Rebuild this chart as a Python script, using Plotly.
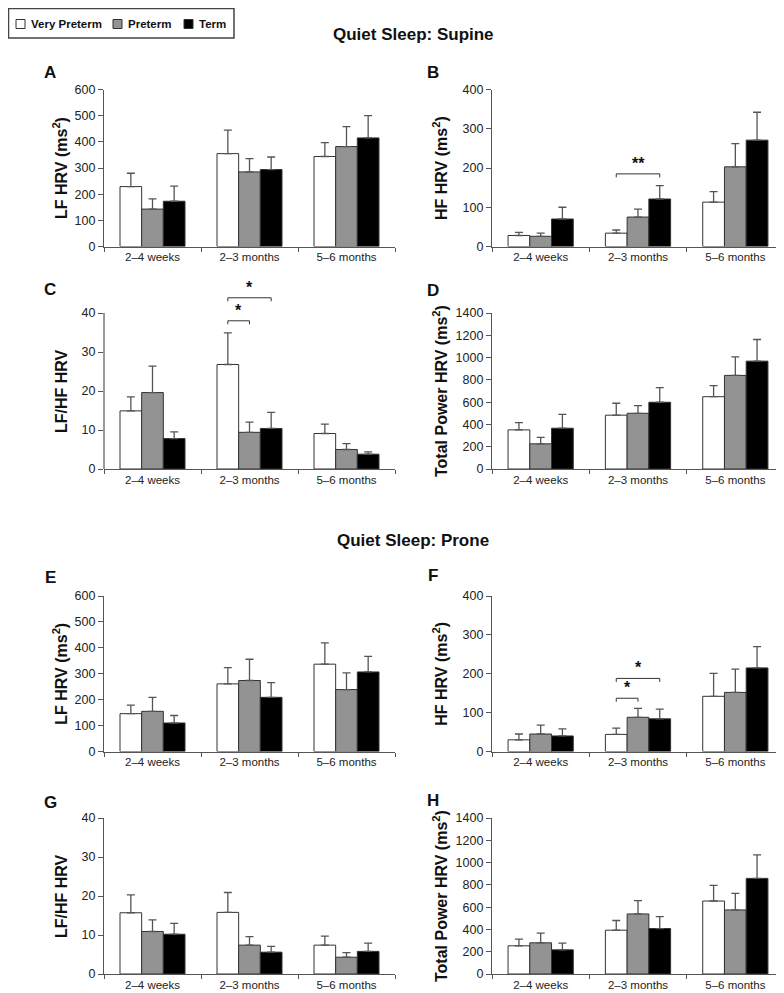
import plotly.graph_objects as go

# ---------------- data ----------------
categories = ["2–4 weeks", "2–3 months", "5–6 months"]
groups = ["Very Preterm", "Preterm", "Term"]

# Quiet Sleep: Supine
A_vp = [229, 355, 344]; A_vp_err = [51, 90, 53]
A_p = [143, 285, 382];  A_p_err = [39, 51, 76]
A_t = [173, 294, 415];  A_t_err = [58, 48, 85]

B_vp = [28, 34, 113];  B_vp_err = [8, 8, 27]
B_p = [26, 75, 203];   B_p_err = [8, 20, 59]
B_t = [70, 121, 271];  B_t_err = [30, 34, 71]

C_vp = [14.9, 26.8, 9.1]; C_vp_err = [3.6, 8.1, 2.4]
C_p = [19.6, 9.4, 5.0];   C_p_err = [6.8, 2.6, 1.5]
C_t = [7.8, 10.4, 3.8];   C_t_err = [1.7, 4.1, 0.6]

D_vp = [351, 483, 649]; D_vp_err = [66, 107, 99]
D_p = [226, 500, 840];  D_p_err = [57, 69, 167]
D_t = [366, 599, 968];  D_t_err = [125, 131, 194]

# Quiet Sleep: Prone
E_vp = [146, 261, 337]; E_vp_err = [33, 63, 82]
E_p = [155, 274, 239];  E_p_err = [54, 82, 64]
E_t = [110, 209, 307];  E_t_err = [29, 57, 60]

F_vp = [30, 44, 142]; F_vp_err = [15, 16, 59]
F_p = [45, 88, 152];  F_p_err = [23, 23, 60]
F_t = [40, 84, 215];  F_t_err = [18, 25, 55]

G_vp = [15.7, 15.8, 7.4]; G_vp_err = [4.6, 5.1, 2.3]
G_p = [10.9, 7.4, 4.3];   G_p_err = [3.0, 2.2, 1.2]
G_t = [10.2, 5.6, 5.8];   G_t_err = [2.8, 1.5, 2.1]

H_vp = [253, 393, 655]; H_vp_err = [60, 87, 140]
H_p = [280, 539, 575];  H_p_err = [86, 119, 149]
H_t = [217, 408, 858];  H_t_err = [60, 107, 211]

# significance brackets: (category index, from group, to group, level, label)
sig_B = [(1, 0, 2, 185, "**")]
sig_C = [(1, 0, 1, 38.0, "*"), (1, 0, 2, 43.9, "*")]
sig_F = [(1, 0, 1, 137, "*"), (1, 0, 2, 188, "*")]

section_titles = ["Quiet Sleep: Supine", "Quiet Sleep: Prone"]

# ---------------- styling ----------------
OFF = 8                      # browser body margin
W, H = 784 - OFF, 993 - OFF
FONT = "Liberation Sans, Arial, sans-serif"
COLORS = ["#ffffff", "#939393", "#000000"]
AXC = "#555555"
BARGAP = 0.33

LF_T = "LF HRV (ms<sup>2</sup>)"
HF_T = "HF HRV (ms<sup>2</sup>)"
RT_T = "LF/HF HRV"
TP_T = "Total Power HRV (ms<sup>2</sup>)"


def px_x(x):  # reference pixel -> paper
    return (x - OFF) / W


def px_y(y):
    return 1 - (y - OFF) / H


LEFT = [px_x(104), px_x(395)]
RIGHT = [px_x(492), px_x(784)]

panels = [
    # letter, means, errs, ymax, dtick, title, xdom, (top,bottom) px, sig, range max, title x px
    ("A", [A_vp, A_p, A_t], [A_vp_err, A_p_err, A_t_err], 600, 100, LF_T, LEFT, (89.5, 246.5), [], 600, 60),
    ("B", [B_vp, B_p, B_t], [B_vp_err, B_p_err, B_t_err], 400, 100, HF_T, RIGHT, (89.5, 246.5), sig_B, 400, 440),
    ("C", [C_vp, C_p, C_t], [C_vp_err, C_p_err, C_t_err], 40, 10, RT_T, LEFT, (313, 469), sig_C, 48, 61),
    ("D", [D_vp, D_p, D_t], [D_vp_err, D_p_err, D_t_err], 1400, 200, TP_T, RIGHT, (313, 469), [], 1400, 440),
    ("E", [E_vp, E_p, E_t], [E_vp_err, E_p_err, E_t_err], 600, 100, LF_T, LEFT, (596, 751.5), [], 600, 60),
    ("F", [F_vp, F_p, F_t], [F_vp_err, F_p_err, F_t_err], 400, 100, HF_T, RIGHT, (596, 751.5), sig_F, 400, 440),
    ("G", [G_vp, G_p, G_t], [G_vp_err, G_p_err, G_t_err], 40, 10, RT_T, LEFT, (818, 974), [], 40, 61),
    ("H", [H_vp, H_p, H_t], [H_vp_err, H_p_err, H_t_err], 1400, 200, TP_T, RIGHT, (818, 974), [], 1400, 440),
]

letter_pos = {"A": (50, 73), "B": (433, 73), "C": (50, 289), "D": (433, 291),
              "E": (50, 577), "F": (433, 575), "G": (50, 802), "H": (433, 800)}

fig = go.Figure()
layout = dict(
    width=W, height=H, margin=dict(l=0, r=0, t=0, b=0),
    paper_bgcolor="white", plot_bgcolor="white",
    barmode="group", bargap=BARGAP, bargroupgap=0,
    showlegend=False,
    font=dict(family=FONT, size=11, color="#222"),
)
shapes = []
annotations = []


def bar_center(ci, gi):
    w = (1 - BARGAP) / 3
    return ci + (gi - 1) * w


for k, (letter, means, errs, ymax, dt, title, xdom, (top, bottom), sig, rmax, tx) in enumerate(panels):
    n = k + 1
    xa = "x" if n == 1 else f"x{n}"
    ya = "y" if n == 1 else f"y{n}"
    for gi in range(3):
        fig.add_trace(go.Bar(
            x=categories, y=means[gi], name=groups[gi], legendgroup=groups[gi],
            xaxis=xa, yaxis=ya,
            marker=dict(color=COLORS[gi], line=dict(color="#333", width=1)),
            error_y=dict(type="data", symmetric=False, array=errs[gi],
                         arrayminus=[0] * len(errs[gi]), color="#555",
                         thickness=1.3, width=4),
        ))
    px_per_unit = (bottom - top) / ymax
    top_ext = bottom - rmax * px_per_unit
    xkey = "xaxis" if n == 1 else f"xaxis{n}"
    ykey = "yaxis" if n == 1 else f"yaxis{n}"
    layout[xkey] = dict(
        domain=xdom, anchor=ya, type="category", categoryorder="array",
        categoryarray=categories, tickson="boundaries", ticks="outside", ticklen=4,
        tickcolor=AXC, showline=True, linecolor=AXC, linewidth=1.2,
        showgrid=False, zeroline=False, automargin=False,
        tickfont=dict(family=FONT, size=11.5, color="#222"),
    )
    ext = rmax > ymax
    layout[ykey] = dict(
        domain=[px_y(bottom), px_y(top_ext)], anchor=xa, range=[0, rmax],
        tickvals=list(range(0, ymax + 1, dt)), ticks="outside", ticklen=5,
        tickcolor=AXC, showline=not ext, linecolor=AXC, linewidth=1.2,
        showgrid=False, zeroline=False, automargin=False,
        tickfont=dict(family=FONT, size=12.5, color="#222"),
    )
    if ext:
        shapes.append(dict(type="line", xref=f"{xa} domain", yref=ya, x0=0, x1=0,
                           y0=0, y1=ymax, line=dict(color=AXC, width=1.2)))
    # y-axis title
    annotations.append(dict(text=f"<b>{title}</b>", xref="paper", yref="paper",
                            x=px_x(tx), y=px_y((top + bottom) / 2), textangle=-90,
                            xanchor="center", yanchor="middle", showarrow=False,
                            font=dict(family=FONT, size=16, color="#111")))
    drop = 3.5 / (bottom - top) * ymax
    for (ci, g0, g1, lvl, lab) in sig:
        xa0 = bar_center(ci, g0)
        xa1 = bar_center(ci, g1)
        for (x0, y0, x1, y1) in [(xa0, lvl - drop, xa0, lvl), (xa0, lvl, xa1, lvl),
                                 (xa1, lvl, xa1, lvl - drop)]:
            shapes.append(dict(type="line", xref=xa, yref=ya, x0=x0, y0=y0, x1=x1, y1=y1,
                               line=dict(color="#333", width=1)))
        annotations.append(dict(text=f"<b>{lab}</b>", xref=xa, yref=ya, x=(xa0 + xa1) / 2,
                                y=lvl, yanchor="bottom", xanchor="center", showarrow=False,
                                font=dict(family=FONT, size=16, color="#111")))
    lx, ly = letter_pos[letter]
    annotations.append(dict(text=f"<b>{letter}</b>", xref="paper", yref="paper",
                            x=px_x(lx), y=px_y(ly), xanchor="center", yanchor="middle",
                            showarrow=False, font=dict(family=FONT, size=17, color="#111")))

# section titles
for txt, (cx, cy) in zip(section_titles, [(413.5, 35), (413, 540)]):
    annotations.append(dict(text=f"<b>{txt}</b>", xref="paper", yref="paper",
                            x=px_x(cx), y=px_y(cy), xanchor="center", yanchor="middle",
                            showarrow=False, font=dict(family=FONT, size=17, color="#111")))

# legend (boxed, top-left)
LW, LH = 226, 30
shapes.append(dict(type="rect", xref="paper", yref="paper", x0=0.5 / W, x1=LW / W,
                   y0=1 - LH / H, y1=1 - 0.5 / H, line=dict(color="#444", width=1.5),
                   fillcolor="white", layer="above"))
sq_x = [8, 105, 176]
for gi, g in enumerate(groups):
    x0 = sq_x[gi]
    shapes.append(dict(type="rect", xref="paper", yref="paper", x0=x0 / W, x1=(x0 + 9) / W,
                       y0=1 - 20.5 / H, y1=1 - 11.5 / H, fillcolor=COLORS[gi],
                       line=dict(color="#333", width=1), layer="above"))
    annotations.append(dict(text=f"<b>{g}</b>", xref="paper", yref="paper",
                            x=(x0 + 13) / W, y=1 - 16 / H, xanchor="left", yanchor="middle",
                            showarrow=False, font=dict(family=FONT, size=11.5, color="#111")))

layout["shapes"] = shapes
layout["annotations"] = annotations
fig.update_layout(**layout)
fig.write_html("out.html")
